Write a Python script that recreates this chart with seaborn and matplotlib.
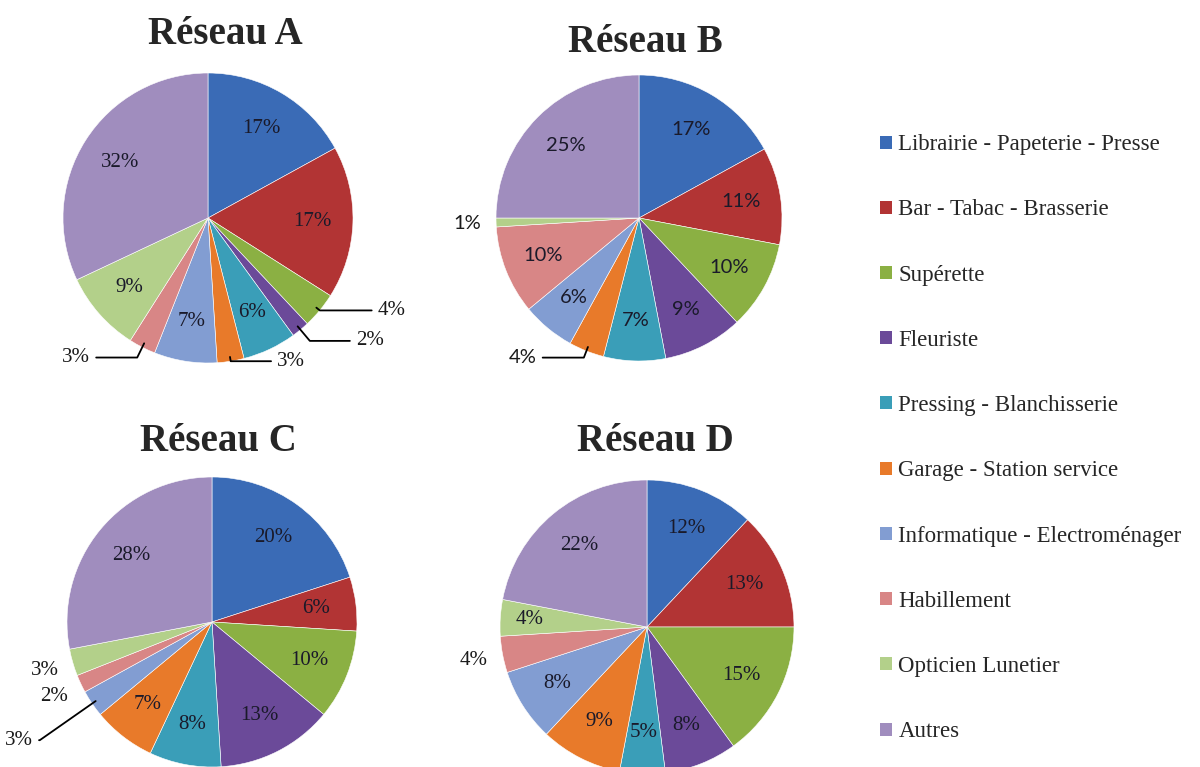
import numpy as np
import matplotlib
matplotlib.use("Agg")
import matplotlib.pyplot as plt
import seaborn as sns
from matplotlib.patches import Patch

categories = ["Librairie - Papeterie - Presse", "Bar - Tabac - Brasserie", "Supérette",
              "Fleuriste", "Pressing - Blanchisserie", "Garage - Station service",
              "Informatique - Electroménager", "Habillement", "Opticien Lunetier", "Autres"]

reseau_a = [17, 17, 4, 2, 6, 3, 7, 3, 9, 32]
reseau_b = [17, 11, 10, 9, 7, 4, 6, 10, 1, 25]
reseau_c = [20, 6, 10, 13, 8, 7, 3, 2, 3, 28]
reseau_d = [12, 13, 15, 8, 5, 9, 8, 4, 4, 22]

titles = ["Réseau A", "Réseau B", "Réseau C", "Réseau D"]

colors = ["#3A6BB6", "#B23434", "#8BB043", "#6B4A99", "#3A9EB8",
          "#E87A2A", "#829DD2", "#D88686", "#B3D08A", "#A08DBE"]

sns.set_style("white")
plt.rcParams["font.family"] = ["Liberation Serif", "DejaVu Serif"]

W, H = 1200, 767
fig = plt.figure(figsize=(W / 100, H / 100), dpi=100)

# pixel centre / radius of each pie, label font,
# outside labels: idx -> (leader line?, vertical reach)
layout = [
    dict(c=(208, 218), r=145, title=(225, 34), font="Liberation Serif", fs=15,
         outside={2: (True, 1.0), 3: (True, 1.1), 5: (True, 1.0), 7: (True, 1.08)}),
    dict(c=(639, 218), r=143, title=(645, 43), font="Lato", fs=14.5,
         outside={5: (True, 1.05), 8: (False, 1.2)}),
    dict(c=(212, 622), r=145, title=(218, 441), font="Liberation Serif", fs=15,
         outside={6: (True, 1.45), 7: (False, 1.2), 8: (False, 1.2)}),
    dict(c=(647, 627), r=147, title=(655, 441), font="Liberation Serif", fs=15,
         outside={7: (False, 1.2)}),
]

for vals, title, lay in zip([reseau_a, reseau_b, reseau_c, reseau_d], titles, layout):
    cx, cy = lay["c"]
    r = lay["r"]
    ax = fig.add_axes([(cx - r) / W, 1 - (cy + r) / H, 2 * r / W, 2 * r / H])
    ax.pie(vals, colors=colors, startangle=90, counterclock=False,
           wedgeprops=dict(edgecolor="white", linewidth=0.4))
    ax.set_xlim(-1, 1)
    ax.set_ylim(-1, 1)
    ax.axis("off")

    total = sum(vals)
    cum = np.cumsum([0] + vals[:-1])
    for i, v in enumerate(vals):
        mid = (cum[i] + v / 2) / total * 2 * np.pi
        dx, dy = np.sin(mid), np.cos(mid)
        txt = f"{v}%"
        if i in lay["outside"]:
            leader, reach = lay["outside"][i]
            if leader:
                side = 1 if dx >= 0 else -1
                tx = dx * 1.13 + side * 0.3
                ty = dy * reach
                ax.annotate(txt, xy=(dx * 0.97, dy * 0.97), xytext=(tx, ty),
                            ha="left" if side > 0 else "right", va="center",
                            fontsize=lay["fs"], family=lay["font"], color="#1a1a1a",
                            annotation_clip=False,
                            arrowprops=dict(arrowstyle="-", color="black", lw=1.3,
                                            shrinkA=2, shrinkB=0,
                                            connectionstyle="angle,angleA=0,angleB=%d" %
                                            int(np.degrees(np.arctan2(dy, dx)))))
            else:
                ax.text(dx * reach, dy * reach, txt, ha="center", va="center",
                        fontsize=lay["fs"], family=lay["font"], color="#1a1a1a")
        else:
            d = 0.72 if v >= 5 else 0.8
            ax.text(dx * d, dy * d, txt, ha="center", va="center",
                    fontsize=lay["fs"], family=lay["font"], color="#1a1a2a")

    fig.text(lay["title"][0] / W, 1 - lay["title"][1] / H, title, ha="center",
             va="center", fontsize=28, fontweight="bold")

handles = [Patch(facecolor=c, edgecolor="none") for c in colors]
fig.legend(handles, categories, loc="upper left",
           bbox_to_anchor=(871 / W, 1 - 125 / H), frameon=False,
           fontsize=16.5, labelspacing=1.93, handlelength=0.5, handleheight=0.5,
           handletextpad=0.3, borderaxespad=0)

fig.savefig("out.png", dpi=100, facecolor="white")
